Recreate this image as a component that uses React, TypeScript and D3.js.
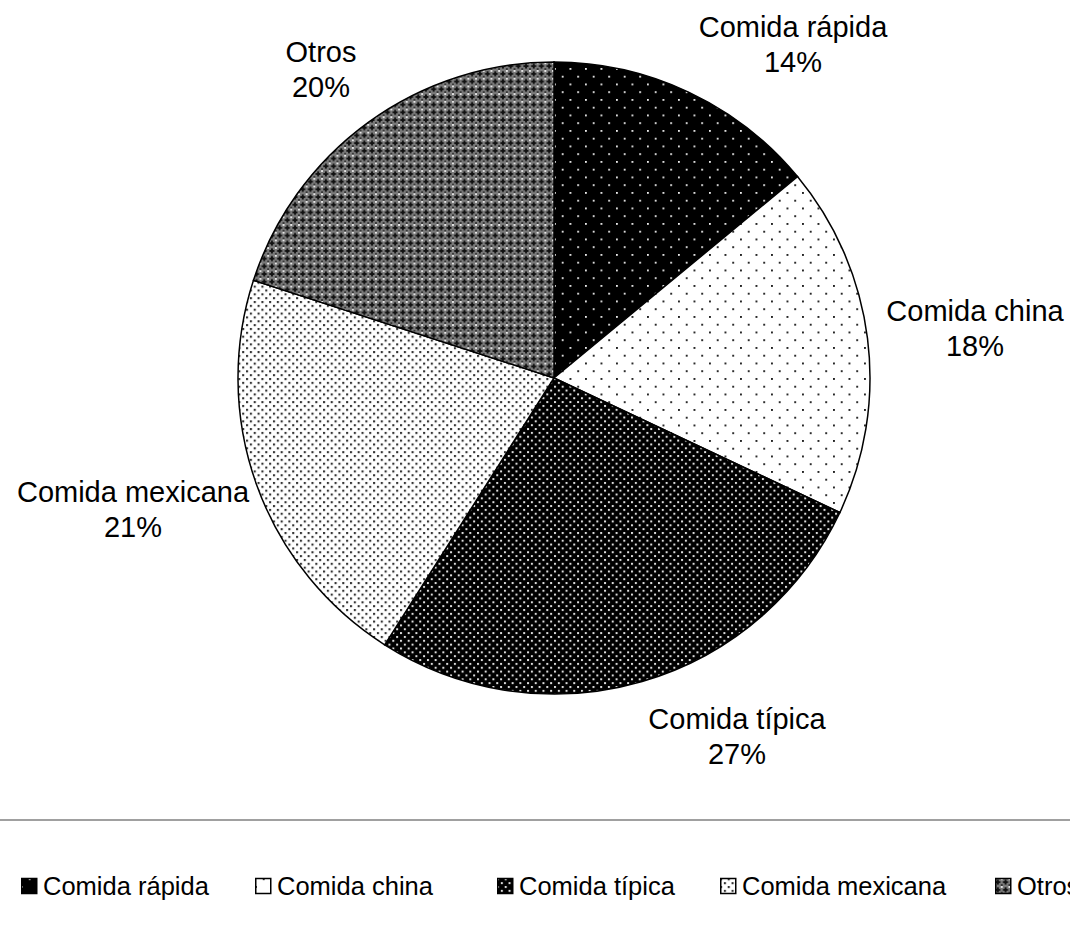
import React from "react";
import * as d3 from "d3";

const categories = ["Comida rápida", "Comida china", "Comida típica", "Comida mexicana", "Otros"];
const values = [14, 18, 27, 21, 20];
const labelText = ["14%", "18%", "27%", "21%", "20%"];
const patternIds = ["pRapida", "pChina", "pTipica", "pMexicana", "pOtros"];
const labelPos: [number, number][] = [
  [793, 27],
  [975, 311],
  [737, 719],
  [133, 492],
  [321, 52],
];
const legendX = [21, 255, 497, 720, 995];

export default function App() {
  const W = 1070, H = 931;
  const cx = 554, cy = 378, r = 316;
  const pie = d3.pie<number>().sort(null).value((d) => d)(values);
  const arc = d3.arc<d3.PieArcDatum<number>>().innerRadius(0).outerRadius(r);
  const font = "Liberation Sans, Arial, sans-serif";
  const t = 7.7;
  return (
    <svg width={W} height={H} style={{ position: "absolute", left: 0, top: 0, background: "#fff" }}>
      <defs>
        <pattern id="pRapida" patternUnits="userSpaceOnUse" width={15.5} height={15.5}>
          <rect width={15.5} height={15.5} fill="#000" />
          <rect x={0} y={0} width={1.8} height={1.8} fill="#eee" />
          <rect x={7.75} y={7.75} width={1.8} height={1.8} fill="#eee" />
        </pattern>
        <pattern id="pChina" patternUnits="userSpaceOnUse" width={15.5} height={15.5}>
          <rect width={15.5} height={15.5} fill="#fff" />
          <rect x={0} y={0} width={1.9} height={1.9} fill="#222" />
          <rect x={7.75} y={7.75} width={1.9} height={1.9} fill="#222" />
        </pattern>
        <pattern id="pTipica" patternUnits="userSpaceOnUse" width={t} height={t}>
          <rect width={t} height={t} fill="#000" />
          <rect x={0} y={0} width={2} height={2} fill="#ddd" />
          <rect x={t / 2} y={t / 2} width={2} height={2} fill="#ddd" />
        </pattern>
        <pattern id="pMexicana" patternUnits="userSpaceOnUse" width={t} height={t}>
          <rect width={t} height={t} fill="#fff" />
          <rect x={0} y={0} width={2.1} height={2.1} fill="#333" />
          <rect x={t / 2} y={t / 2} width={2.1} height={2.1} fill="#333" />
        </pattern>
        <pattern id="pOtros" patternUnits="userSpaceOnUse" width={t} height={t}>
          <rect width={t} height={t} fill="#7a7a7a" />
          <rect x={0.3} y={2.9} width={5} height={1.9} fill="#111" />
          <rect x={1.9} y={1.3} width={1.9} height={5} fill="#111" />
          <rect x={5.8} y={0} width={1.9} height={1.9} fill="#e8e8e8" />
          <rect x={5.8} y={5.8} width={1.9} height={1.9} fill="#333" />
        </pattern>
      </defs>
      <g transform={`translate(${cx},${cy})`}>
        {pie.map((d, i) => (
          <path key={i} d={arc(d) || ""} fill={`url(#${patternIds[i]})`} stroke="#000" strokeWidth={1.5} />
        ))}
      </g>
      {categories.map((c, i) => (
        <text key={c} x={labelPos[i][0]} y={labelPos[i][1]} textAnchor="middle" fontFamily={font} fontSize={29} fill="#000">
          <tspan x={labelPos[i][0]} dy="0.35em">{c}</tspan>
          <tspan x={labelPos[i][0]} dy="1.2em">{labelText[i]}</tspan>
        </text>
      ))}
      <line x1={0} x2={W} y1={820} y2={820} stroke="#808080" strokeWidth={1.5} />
      {categories.map((c, i) => (
        <g key={c} transform={`translate(${legendX[i]},886)`}>
          <rect x={0.75} y={-7.5} width={15} height={15} fill={`url(#${patternIds[i]})`} stroke="#000" strokeWidth={1.5} />
          <text x={22} y={0} dy="0.35em" fontFamily={font} fontSize={25.5} fill="#000">{c}</text>
        </g>
      ))}
    </svg>
  );
}
